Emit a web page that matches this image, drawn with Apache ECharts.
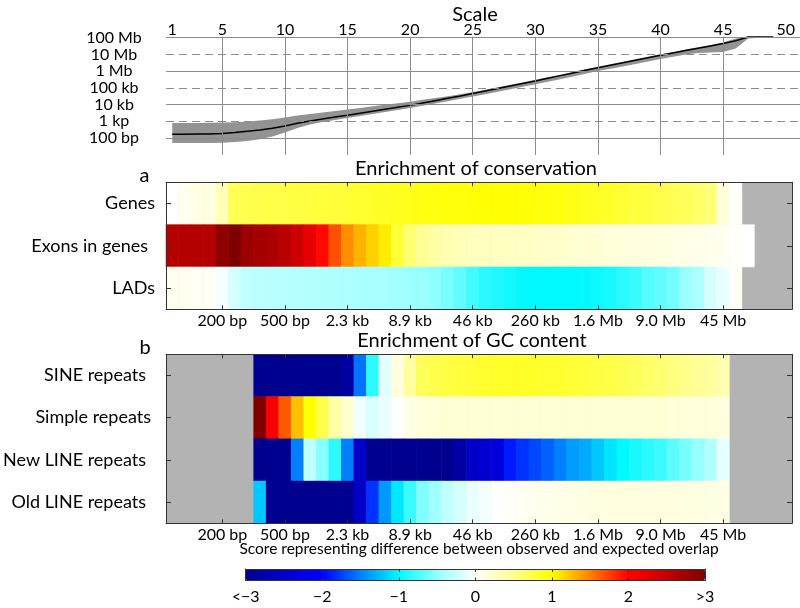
<!DOCTYPE html>
<html><head><meta charset="utf-8">
<script src="https://cdn.jsdelivr.net/npm/echarts@6/dist/echarts.min.js"></script>
<style>html,body{margin:0;padding:0;background:#fff}#c{width:800px;height:608px}</style>
</head><body><div id="c"></div>
<script>
// ---------- DATA ----------
const scales = [1,2,3,4,5,6,7,8,9,10,11,12,13,14,15,16,17,18,19,20,21,22,23,24,25,26,27,28,29,30,31,32,33,34,35,36,37,38,39,40,41,42,43,44,45,46,47,48,49,50];
const scaleAxisTicks = [1,5,10,15,20,25,30,35,40,45,50];
const tickScales = [5,10,15,20,25,30,35,40,45];
const tickLabels = ['200 bp','500 bp','2.3 kb','8.9 kb','46 kb','260 kb','1.6 Mb','9.0 Mb','45 Mb'];
const sizeTickLog = [2,3,4,5,6,7,8];
const sizeTickLabels = ['100 bp','1 kp','10 kb','100 kb','1 Mb','10 Mb','100 Mb'];

// top panel: log10(size in bp) per scale
const curveScale = [1,2,3,4,5,6,7,8,9,10,11,12,13,14,15,16,17,18,19,20,21,22,23,24,25,26,27,28,29,30,31,32,33,34,35,36,37,38,39,40,41,42,43,44,45,46,47,48,49];
const medianLog = [2.22,2.22,2.23,2.24,2.27,2.32,2.40,2.48,2.58,2.72,2.88,3.02,3.14,3.25,3.36,3.48,3.60,3.72,3.84,3.95,4.09,4.23,4.37,4.51,4.66,4.81,4.96,5.11,5.26,5.41,5.57,5.73,5.89,6.05,6.20,6.35,6.50,6.65,6.80,6.95,7.09,7.23,7.37,7.51,7.65,7.82,8.04,8.04,8.04];
const lowerLog = [1.70,1.70,1.70,1.70,1.72,1.76,1.82,1.92,2.08,2.32,2.60,2.80,2.95,3.08,3.20,3.32,3.44,3.56,3.68,3.80,3.93,4.06,4.20,4.34,4.48,4.62,4.77,4.92,5.07,5.22,5.37,5.52,5.68,5.84,6.00,6.14,6.28,6.42,6.57,6.72,6.86,6.99,7.08,7.12,7.14,7.35,7.95,8.00,8.00];
const upperLog = [2.90,2.90,2.90,2.91,2.92,2.94,2.98,3.04,3.12,3.22,3.34,3.44,3.53,3.62,3.70,3.80,3.90,3.99,4.08,4.17,4.28,4.39,4.50,4.62,4.75,4.89,5.03,5.18,5.33,5.48,5.63,5.79,5.95,6.11,6.26,6.41,6.56,6.71,6.86,7.01,7.15,7.29,7.43,7.57,7.72,7.95,8.05,8.04,8.04];

// panel a rows
const rowsA = ['Genes','Exons in genes','LADs'];
const genes = [0.00,0.08,0.12,0.14,0.35,0.72,0.74,0.75,0.76,0.77,0.78,0.79,0.80,0.81,0.82,0.84,0.86,0.88,0.90,0.92,0.94,0.95,0.96,0.97,0.98,0.99,1.00,0.99,0.98,0.97,0.96,0.95,0.93,0.90,0.88,0.86,0.83,0.80,0.78,0.75,0.72,0.70,0.66,0.60,0.18,0.02,null,null,null,null];
const exons = [2.60,2.60,2.60,2.60,2.88,3.00,2.78,2.72,2.66,2.56,2.40,2.20,1.97,1.69,1.45,1.30,1.18,1.07,0.82,0.62,0.50,0.44,0.37,0.34,0.31,0.30,0.29,0.28,0.27,0.26,0.25,0.24,0.22,0.21,0.20,0.18,0.17,0.16,0.15,0.14,0.13,0.12,0.10,0.08,0.06,0.02,0.00,null,null,null];
const lads = [0.08,0.07,0.05,0.04,-0.05,-0.20,-0.30,-0.32,-0.33,-0.34,-0.35,-0.36,-0.37,-0.38,-0.39,-0.40,-0.41,-0.42,-0.44,-0.46,-0.48,-0.52,-0.60,-0.68,-0.78,-0.86,-0.90,-0.95,-0.98,-1.00,-1.00,-1.00,-1.00,-0.98,-0.96,-0.93,-0.86,-0.82,-0.72,-0.68,-0.62,-0.48,-0.40,-0.20,-0.10,0.04,null,null,null,null];

// panel b rows
const rowsB = ['SINE repeats','Simple repeats','New LINE repeats','Old LINE repeats'];
const sine = [null,null,null,null,null,null,null,-3,-3,-3,-3,-3,-3,-3,-2.85,-1.55,-0.85,-0.15,0.15,0.45,0.70,0.75,0.78,0.80,0.82,0.85,0.86,0.87,0.87,0.86,0.85,0.84,0.82,0.80,0.78,0.76,0.73,0.70,0.66,0.62,0.58,0.54,0.50,0.45,0.38,null,null,null,null,null];
const simple = [null,null,null,null,null,null,null,3.0,2.05,1.65,1.25,1.0,0.75,0.44,0.25,-0.07,-0.18,-0.10,0.0,0.12,0.16,0.18,0.20,0.20,0.20,0.20,0.20,0.20,0.20,0.20,0.20,0.20,0.20,0.20,0.20,0.20,0.20,0.20,0.20,0.20,0.18,0.18,0.17,0.17,0.16,null,null,null,null,null];
const newLine = [null,null,null,null,null,null,null,-3,-3,-3,-1.5,-0.3,-0.55,-0.85,-1.5,-2.5,-3,-3,-3,-3,-3,-3,-3,-2.8,-2.5,-2.4,-2.3,-1.9,-1.8,-1.72,-1.62,-1.5,-1.38,-1.32,-1.2,-1.08,-1.0,-0.92,-0.86,-0.8,-0.7,-0.6,-0.5,-0.38,-0.12,null,null,null,null,null];
const oldLine = [null,null,null,null,null,null,null,-1.2,-3,-3,-3,-3,-3,-3,-3,-2.5,-1.8,-1.4,-1.07,-0.8,-0.57,-0.45,-0.3,-0.2,-0.1,-0.06,0.0,0.04,0.06,0.08,0.10,0.11,0.12,0.13,0.14,0.15,0.15,0.15,0.15,0.15,0.15,0.14,0.14,0.13,0.12,null,null,null,null,null];

// colour bar
const cbarTicks = [-3,-2,-1,0,1,2,3];
const cbarLabels = ['<\u22123','\u22122','\u22121','0','1','2','>3'];
const cmap = ['#00008f','#0000c7','#0000ff','#0080ff','#00f8ff','#96ffff','#ffffff','#ffff96','#ffff00','#ff8000','#ff0000','#c00000','#800000'];

// ---------- BUILD ----------
const FONT = 'Lato';
const scaleCats = scales.map(String);
// trailing gap (px) after some row labels, as in the original figure
const labelTrail = { 'Exons in genes': 7, 'SINE repeats': 5, 'New LINE repeats': 5, 'Old LINE repeats': 5 };
function heatData(rows) {
  const out = [];
  rows.forEach((row, r) => row.forEach((v, c) => { if (v !== null) out.push([c, r, v]); }));
  return out;
}
const isTick = (idx) => tickScales.indexOf(scales[idx]) >= 0;
const axisCol = '#333';

function catX(grid, pos, labels) {
  return {
    gridIndex: grid, type: 'category', data: scaleCats, position: pos, z: 10,
    axisLine: { show: true, onZero: false, lineStyle: { color: axisCol, width: 1 } },
    axisTick: { show: true, inside: true, length: 4, alignWithLabel: true, interval: isTick, lineStyle: { color: axisCol } },
    axisLabel: { show: labels, interval: isTick, margin: 4, fontSize: 16, fontFamily: FONT, color: '#000',
      formatter: (v) => tickLabels[tickScales.indexOf(+v)] },
    splitLine: { show: false }
  };
}
function catY(grid, pos, rows, labels, margin) {
  return {
    gridIndex: grid, type: 'category', data: rows, inverse: true, position: pos, z: 10,
    axisLine: { show: true, onZero: false, lineStyle: { color: axisCol, width: 1 } },
    axisTick: { show: true, inside: true, length: 5, alignWithLabel: true, lineStyle: { color: axisCol } },
    axisLabel: { show: labels, margin: margin, fontSize: 18, fontFamily: FONT, color: '#000',
      formatter: (v) => labelTrail[v] ? '{t' + labelTrail[v] + '|' + v + '}' : v,
      rich: { t5: { fontSize: 18, fontFamily: FONT, padding: [0, 5, 0, 0] }, t7: { fontSize: 18, fontFamily: FONT, padding: [0, 7, 0, 0] } } },
    splitLine: { show: false }
  };
}

const gridMarks = []
  .concat(tickScales.map(s => ({ xAxis: s, lineStyle: { color: '#8c8c8c', width: 1, type: 'solid' } })))
  .concat(sizeTickLog.map((v, i) => ({ yAxis: v, lineStyle: { color: '#8c8c8c', width: 1, type: (i % 2 === 0) ? 'solid' : [8, 5] } })));

function renderBand(params, api) {
  const pts = [];
  curveScale.forEach((s, i) => pts.push(api.coord([s, upperLog[i]])));
  for (let i = curveScale.length - 1; i >= 0; i--) pts.push(api.coord([curveScale[i], lowerLog[i]]));
  return { type: 'polygon', shape: { points: pts }, style: { fill: '#939393', stroke: null } };
}

const option = {
  animation: false,
  textStyle: { fontFamily: FONT, color: '#000' },
  grid: [
    { left: 166, top: 36.7, width: 634, height: 118.3 },
    { left: 166, top: 182.3, width: 626, height: 127, show: true, backgroundColor: '#b3b3b3', borderWidth: 0 },
    { left: 166, top: 354.3, width: 626, height: 169, show: true, backgroundColor: '#b3b3b3', borderWidth: 0 },
    { left: 245.7, top: 569, width: 459.3, height: 11.5 }
  ],
  xAxis: [
    { gridIndex: 0, type: 'value', position: 'top', min: 0.5, max: 51.14,
      axisLine: { show: false }, axisTick: { show: false }, splitLine: { show: false },
      axisLabel: { customValues: scaleAxisTicks, fontSize: 16, margin: -1, color: '#000', fontFamily: FONT } },
    catX(1, 'bottom', true), catX(1, 'top', false),
    catX(2, 'bottom', true), catX(2, 'top', false),
    { gridIndex: 3, type: 'value', min: -3, max: 3, interval: 1, position: 'bottom', z: 10,
      axisLine: { show: true, onZero: false, lineStyle: { color: axisCol } },
      axisTick: { show: true, inside: true, length: 3, lineStyle: { color: axisCol } },
      axisLabel: { fontSize: 16, margin: 8, color: '#000', fontFamily: FONT, formatter: (v) => cbarLabels[cbarTicks.indexOf(v)] },
      splitLine: { show: false } },
    { gridIndex: 3, type: 'value', min: -3, max: 3, interval: 1, position: 'top', z: 10,
      axisLine: { show: true, onZero: false, lineStyle: { color: axisCol } },
      axisTick: { show: true, inside: true, length: 3, lineStyle: { color: axisCol } },
      axisLabel: { show: false }, splitLine: { show: false } }
  ],
  yAxis: [
    { gridIndex: 0, type: 'value', min: 0.98, max: 8.06,
      axisLine: { show: false }, axisTick: { show: false }, splitLine: { show: false },
      axisLabel: { customValues: sizeTickLog, align: 'center', margin: 52, fontSize: 16, color: '#000', fontFamily: FONT,
        formatter: (v) => sizeTickLabels[sizeTickLog.indexOf(v)] } },
    catY(1, 'left', rowsA, true, 11), catY(1, 'right', rowsA, false, 11),
    catY(2, 'left', rowsB, true, 15), catY(2, 'right', rowsB, false, 15),
    { gridIndex: 3, type: 'value', min: 0, max: 1, position: 'left', z: 10,
      axisLine: { show: true, onZero: false, lineStyle: { color: axisCol } }, axisTick: { show: false }, axisLabel: { show: false }, splitLine: { show: false } },
    { gridIndex: 3, type: 'value', min: 0, max: 1, position: 'right', z: 10,
      axisLine: { show: true, onZero: false, lineStyle: { color: axisCol } }, axisTick: { show: false }, axisLabel: { show: false }, splitLine: { show: false } }
  ],
  visualMap: {
    type: 'continuous', min: -3, max: 3, seriesIndex: [3, 4],
    orient: 'horizontal', left: 245.7, top: 569, itemWidth: 11.5, itemHeight: 459.3,
    padding: 0, calculable: false, hoverLink: false, realtime: false,
    inRange: { color: cmap }
  },
  series: [
    { type: 'line', xAxisIndex: 0, yAxisIndex: 0, z: 1, symbol: 'none', silent: true,
      data: curveScale.map((s, i) => [s, medianLog[i]]), lineStyle: { opacity: 0 },
      markLine: { silent: true, symbol: ['none', 'none'], label: { show: false }, animation: false, data: gridMarks } },
    { type: 'custom', xAxisIndex: 0, yAxisIndex: 0, z: 2, silent: true,
      data: [[curveScale[0], lowerLog[0]]], renderItem: renderBand },
    { type: 'line', xAxisIndex: 0, yAxisIndex: 0, z: 3, symbol: 'none', silent: true,
      data: curveScale.map((s, i) => [s, medianLog[i]]), lineStyle: { color: '#000', width: 1.5 } },
    { type: 'heatmap', xAxisIndex: 1, yAxisIndex: 1, data: heatData([genes, exons, lads]),
      itemStyle: { borderWidth: 0 }, emphasis: { disabled: true }, progressive: 0 },
    { type: 'heatmap', xAxisIndex: 3, yAxisIndex: 3, data: heatData([sine, simple, newLine, oldLine]),
      itemStyle: { borderWidth: 0 }, emphasis: { disabled: true }, progressive: 0 }
  ],
  graphic: [
    { type: 'text', x: 475, y: 15, style: { text: 'Scale', font: '20px Lato', fill: '#000', align: 'center', verticalAlign: 'middle' } },
    { type: 'text', x: 144.5, y: 175.5, style: { text: 'a', font: '20px Lato', fill: '#000', align: 'center', verticalAlign: 'middle' } },
    { type: 'text', x: 476, y: 169, style: { text: 'Enrichment of conservation', font: '20px Lato', fill: '#000', align: 'center', verticalAlign: 'middle' } },
    { type: 'text', x: 145, y: 348, style: { text: 'b', font: '20px Lato', fill: '#000', align: 'center', verticalAlign: 'middle' } },
    { type: 'text', x: 472, y: 341, style: { text: 'Enrichment of GC content', font: '20px Lato', fill: '#000', align: 'center', verticalAlign: 'middle' } },
    { type: 'text', x: 479, y: 549, style: { text: 'Score representing difference between observed and expected overlap', font: '15.5px Lato', fill: '#000', align: 'center', verticalAlign: 'middle' } }
  ]
};
const chart = echarts.init(document.getElementById('c'), null, { renderer: 'canvas' });
chart.setOption(option);
</script>
</body></html>
